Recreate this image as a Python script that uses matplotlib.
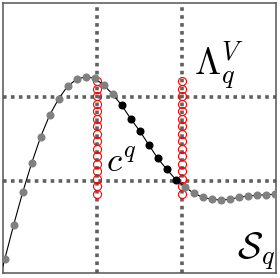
import numpy as np
import matplotlib
matplotlib.use("Agg")
import matplotlib.pyplot as plt

plt.rcParams['mathtext.fontset'] = 'cm'

# curve samples (x step 9, frame is 273 x 270 units)
curve_x = [1.7 + 9 * i for i in range(31)]
curve_y = [13.7, 48.3, 80.7, 110, 136.3, 158, 174.3, 187, 193.7, 196.3,
           194.7, 188, 178.7, 167.7, 154.3, 142, 128.3, 114.7, 103.7, 93.5,
           86.3, 79.7, 75.7, 73.7, 73, 73.7, 75.7, 77, 77.7, 78.3, 78.7]
lead_x, lead_y = -7.3, -21.0      # line enters from below the frame
black_idx = range(13, 20)         # selected samples

grid_x = [94, 178.5]
grid_y = [176, 92]

col_x = [94, 178.5]
col_y = [192 - 7.53 * k for k in range(16)]

fig = plt.figure(figsize=(2.8, 2.78), dpi=100)
ax = fig.add_axes([3 / 280, 5 / 278, 273 / 280, 270 / 278])
ax.set_xlim(0, 273)
ax.set_ylim(0, 270)

grid_style = dict(color="#606060", lw=2.6, linestyle=(0, (1.0, 1.2)), zorder=1)
for gx in grid_x:
    ax.axvline(gx, **grid_style)
for gy in grid_y:
    ax.axhline(gy, **grid_style)

for cx in col_x:
    ax.plot([cx] * len(col_y), col_y, 'o', ms=5.8, mfc='none', mec='red',
            mew=0.8, zorder=2)

ax.plot([lead_x] + curve_x, [lead_y] + curve_y, color='black', lw=0.8, zorder=3)
gx_pts = [x for i, x in enumerate(curve_x) if i not in black_idx]
gy_pts = [y for i, y in enumerate(curve_y) if i not in black_idx]
ax.plot(gx_pts, gy_pts, 'o', color='#808080', ms=4.8, zorder=4)
ax.plot([curve_x[i] for i in black_idx], [curve_y[i] for i in black_idx],
        'o', color='black', ms=4.8, zorder=4)

ax.text(191, 198, r'$\Lambda_q^V$', fontsize=27, ha='left', va='baseline')
ax.text(103, 101, r'$c^q$', fontsize=25, ha='left', va='baseline')
ax.text(234, 14, r'$\mathcal{S}_q$', fontsize=27, ha='left', va='baseline')

ax.set_xticks([])
ax.set_yticks([])
for s in ax.spines.values():
    s.set_color('#555555')
    s.set_linewidth(1.1)

fig.savefig("out.png", dpi=100)
